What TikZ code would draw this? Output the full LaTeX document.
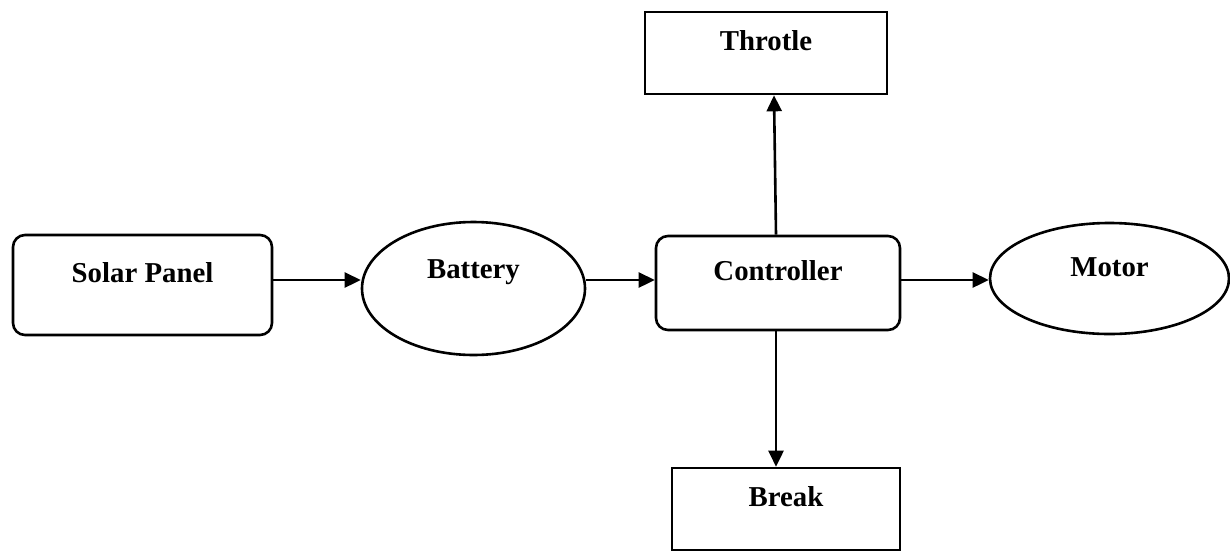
\documentclass[tikz,border=0pt]{standalone}
\usepackage{fontspec}
\setmainfont{Liberation Serif}
\usetikzlibrary{shapes.geometric,arrows.meta}

\tikzset{
  blk/.style={draw, line width=1.3pt, font=\fontsize{14.4}{17}\selectfont\bfseries,
    text height=10pt, text depth=12.5pt},
  rblk/.style={blk, rounded corners=6pt},
  oval/.style={blk, ellipse},
  arr/.style={line width=1.3pt, -{Triangle[length=8pt,width=7.5pt]}}
}

\begin{document}
\begin{tikzpicture}[x=0.5pt, y=0.5pt]
  \useasboundingbox (0,0) rectangle (1230,-552);

  % main power chain
  \node[rblk, minimum width=129.5pt, minimum height=50pt] (solar) at (142.5,-285) {Solar Panel};
  \node[oval, minimum width=111.5pt, minimum height=66.5pt, text depth=20.5pt] (battery) at (473.5,-288.5) {Battery};
  \node[rblk, minimum width=122pt, minimum height=47pt] (ctrl) at (778,-283) {Controller};
  \node[oval, minimum width=119.5pt, minimum height=55.5pt] (motor) at (1109.5,-278.5) {Motor};

  % inputs of the controller
  \node[blk, minimum width=121pt, minimum height=41pt] (throtle) at (766,-53) {Throtle};
  \node[blk, minimum width=114pt, minimum height=41pt] (break) at (786,-509) {Break};

  \coordinate (bus) at (0,-280);

  \draw[arr] (solar.east |- bus) -- (battery.west |- bus);
  \draw[arr] (battery.east |- bus) -- (ctrl.west |- bus);
  \draw[arr] (ctrl.east |- bus) -- (motor.west |- bus);
  \draw[arr] ([xshift=-1pt]ctrl.north) -- ([xshift=4pt]throtle.south);
  \draw[arr] ([xshift=-1pt]ctrl.south) -- ([xshift=-5pt]break.north);
\end{tikzpicture}
\end{document}
